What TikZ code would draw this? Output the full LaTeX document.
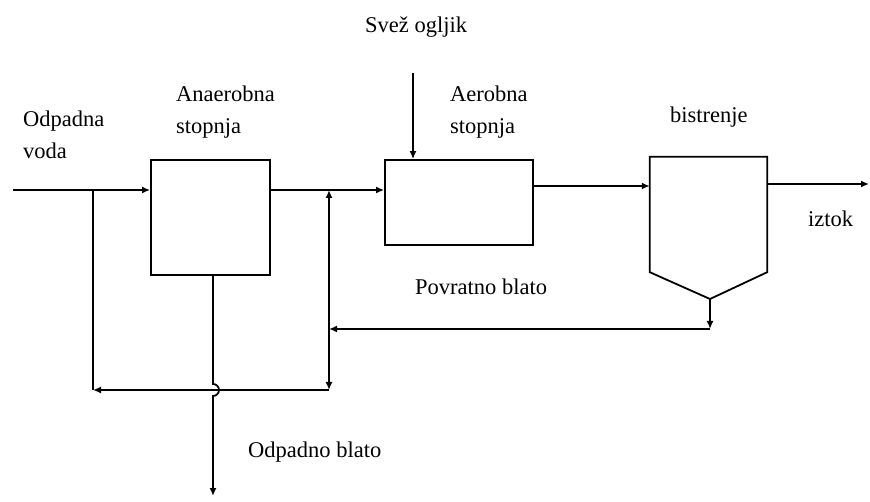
\documentclass[tikz,border=0pt]{standalone}
\usepackage{fontspec}
\setmainfont{Liberation Serif}
\usetikzlibrary{arrows.meta}

\begin{document}
\begin{tikzpicture}[x=1pt,y=-1pt,font=\fontsize{22.5}{32}\selectfont,
  pipe/.style={line width=1.8pt},
  flow/.style={pipe,-{Latex[length=8pt,width=7pt]}},
  unit/.style={draw,line width=1.8pt,inner sep=0pt},
  lbl/.style={anchor=base west,inner sep=0pt,align=left}]
  \useasboundingbox (0,0) rectangle (870,502);
  % process units
  \node[unit,minimum width=119pt,minimum height=115pt] (anaer) at (210.5,217.5) {};
  \node[unit,minimum width=148pt,minimum height=85pt] (aer) at (459,202.5) {};
  \node[inner sep=0pt,minimum width=117pt,minimum height=115pt] (clar) at (708.5,214.5) {};
  \coordinate (tip) at (710,299);
  \draw[pipe] (clar.south west) -- (clar.north west) -- (clar.north east)
    -- (clar.south east) -- (tip) -- cycle;
  % main line
  \coordinate (in) at (13,190);
  \coordinate (jin) at (93,190);
  \coordinate (jret) at (329,190);
  \coordinate (mid) at (590,186);
  \coordinate (out) at (869,184);
  \draw[flow] (in) -- (in -| anaer.west);
  \draw[flow] (anaer.east |- in) -- (aer.west |- in);
  \draw[flow] (aer.east |- mid) -- (clar.west |- mid);
  \draw[flow] (clar.east |- out) -- (out);
  % fresh carbon
  \coordinate (carb) at (413,73);
  \draw[flow] (carb) -- (carb |- aer.north);
  % return sludge
  \coordinate (rb) at (710,329);
  \coordinate (jbot) at (329,390);
  \draw[flow] (tip) -- (rb);
  \draw[flow] (rb) -- (rb -| jret);
  \draw[flow] (rb -| jret) -- (jret);
  \draw[flow] (rb -| jret) -- (jbot);
  \draw[flow] (jbot) -- (jbot -| jin);
  \draw[pipe] (jbot -| jin) -- (jin);
  % waste sludge
  \coordinate (hop) at (213,384);
  \coordinate (wout) at (213,496);
  \draw[flow] (hop |- anaer.south) -- (hop)
    arc[start angle=-90,end angle=90,radius=6] -- (wout);
  % labels
  \node[lbl] (carbl) at (365,33) {Svež ogljik};
  \node[lbl] (inl) at (23,159) {Odpadna\\voda};
  \node[lbl] (anl) at (176,134) {Anaerobna\\stopnja};
  \node[lbl] (ael) at (450,134) {Aerobna\\stopnja};
  \node[lbl] (bil) at (670,123) {bistrenje};
  \node[lbl] (outl) at (808,227) {iztok};
  \node[lbl] (retl) at (415,295) {Povratno blato};
  \node[lbl] (wastel) at (248,457) {Odpadno blato};
\end{tikzpicture}
\end{document}
